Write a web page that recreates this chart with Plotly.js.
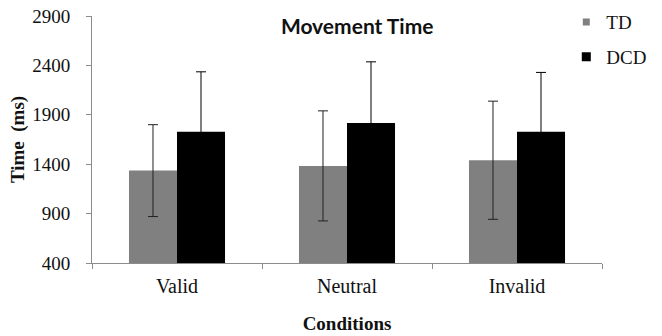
<!DOCTYPE html>
<html>
<head>
<meta charset="utf-8">
<script src="https://cdn.plot.ly/plotly-3.0.1.min.js"></script>
<style>
html, body { margin: 0; padding: 0; background: #fff; }
#chart { width: 662px; height: 336px; }
</style>
</head>
<body>
<div id="chart"></div>
<script>
var categories = ["Valid", "Neutral", "Invalid"];
var tdMeans = [1335, 1383, 1440];
var tdSD = [465, 557, 598];
var dcdMeans = [1729, 1817, 1729];
var dcdSD = [606, 619, 600];
var yTicks = [400, 900, 1400, 1900, 2400, 2900];

var serif = "'Liberation Serif', 'Times New Roman', serif";

var traces = [
  {
    type: "bar", name: "TD", x: categories, y: tdMeans,
    marker: { color: "#808080" },
    error_y: { type: "data", array: tdSD, visible: true, color: "#222222", thickness: 1, width: 5 },
    showlegend: false, hoverinfo: "skip"
  },
  {
    type: "bar", name: "DCD", x: categories, y: dcdMeans,
    marker: { color: "#000000" },
    error_y: { type: "data", array: dcdSD, visible: true, color: "#000000", thickness: 1, width: 5 },
    showlegend: false, hoverinfo: "skip"
  },
  {
    type: "scatter", mode: "markers", name: "TD", x: [null], y: [null],
    marker: { symbol: "square", size: 7, color: "#808080" }, legendgroup: "a"
  },
  {
    type: "scatter", mode: "markers", name: "DCD", x: [null], y: [null],
    marker: { symbol: "square", size: 9, color: "#000000" }, legendgroup: "b"
  }
];

var layout = {
  width: 662, height: 336,
  margin: { l: 92, r: 60, t: 16, b: 73, autoexpand: false },
  paper_bgcolor: "#ffffff", plot_bgcolor: "#ffffff",
  barmode: "group", bargap: 0.435, bargroupgap: 0,
  font: { family: serif, color: "#111111", size: 19 },
  title: {
    text: "<b>Movement Time</b>",
    font: { family: "Lato, 'Open Sans', sans-serif", size: 21, color: "#111111" },
    x: 0.52, xref: "paper", xanchor: "center",
    y: 1 - 27 / 336, yref: "container", yanchor: "middle"
  },
  xaxis: {
    type: "category",
    showline: true, linecolor: "#8c8c8c", linewidth: 1,
    ticks: "outside", tickson: "boundaries", ticklen: 5, tickcolor: "#8c8c8c",
    tickfont: { family: serif, size: 20, color: "#111111" },
    ticklabelstandoff: 5,
    showgrid: false, zeroline: false,
    title: { text: "<b>Conditions</b>", font: { family: serif, size: 19, color: "#111111" }, standoff: 20 }
  },
  yaxis: {
    range: [400, 2900], tickvals: yTicks, ticktext: yTicks.map(String),
    showline: true, linecolor: "#8c8c8c", linewidth: 1,
    ticks: "outside", ticklen: 5, tickcolor: "#8c8c8c",
    tickfont: { family: serif, size: 19, color: "#111111" },
    ticklabelstandoff: 12,
    showgrid: false, zeroline: false,
    title: { text: "<b>Time  (ms)</b>", font: { family: serif, size: 19, color: "#111111" }, standoff: 2 }
  },
  legend: {
    x: 0.93, xanchor: "left", y: 1.052, yanchor: "top",
    font: { family: serif, size: 19, color: "#111111" },
    bgcolor: "rgba(0,0,0,0)", tracegroupgap: 7, itemwidth: 30
  },
  showlegend: true
};

Plotly.newPlot("chart", traces, layout, { displayModeBar: false, staticPlot: true });
</script>
</body>
</html>
